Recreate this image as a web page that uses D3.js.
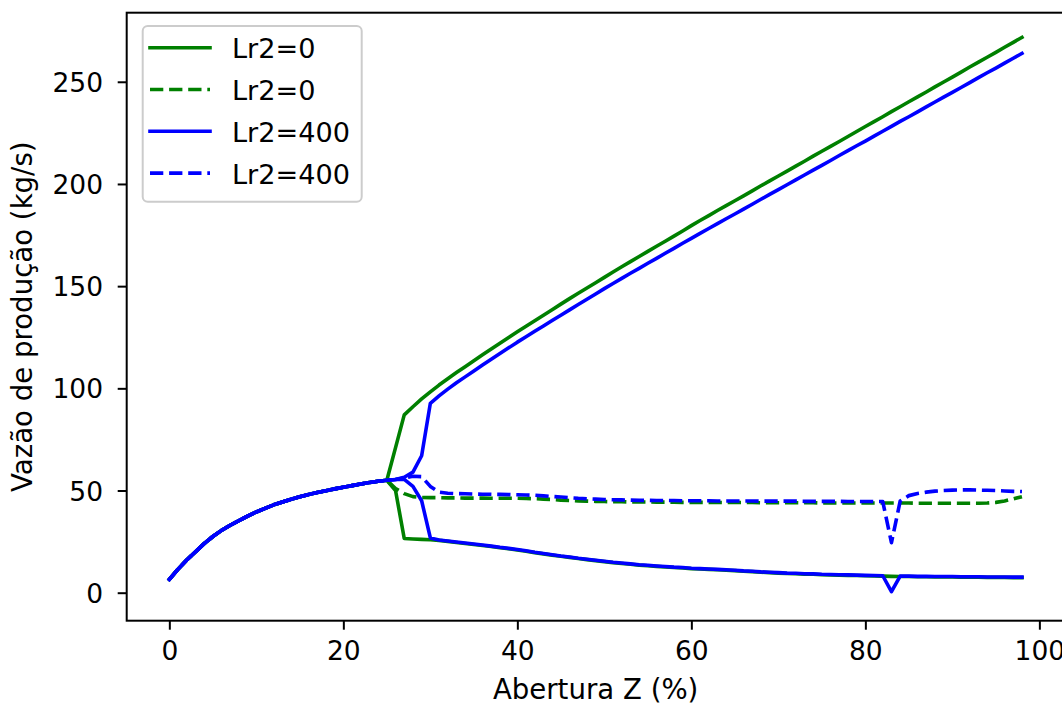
<!DOCTYPE html>
<html>
<head>
<meta charset="utf-8">
<script src="https://cdn.jsdelivr.net/npm/d3@7"></script>
<style>
  html, body { margin: 0; padding: 0; background: #fff; }
  svg { display: block; }
  text { font-family: "DejaVu Sans", sans-serif; fill: #000; }
</style>
</head>
<body>
<svg id="chart" width="1062" height="706"></svg>
<script>
// Abertura Z (%) — one sample per percent
const abertura = [
  0, 1, 2, 3, 4, 5, 6, 7, 8, 9, 10, 11, 12, 13, 14, 15, 16, 17, 18, 19,
  20, 21, 22, 23, 24, 25, 26, 27, 28, 29, 30, 31, 32, 33, 34, 35, 36, 37, 38, 39,
  40, 41, 42, 43, 44, 45, 46, 47, 48, 49, 50, 51, 52, 53, 54, 55, 56, 57, 58, 59,
  60, 61, 62, 63, 64, 65, 66, 67, 68, 69, 70, 71, 72, 73, 74, 75, 76, 77, 78, 79,
  80, 81, 82, 83, 84, 85, 86, 87, 88, 89, 90, 91, 92, 93, 94, 95, 96, 97, 98
];

// Shared start-up flow (Z = 0 .. 25), identical for every case
const rampFlow = [
  6.5, 11.5, 16.0, 20.0, 24.0, 27.5, 30.5, 33.0, 35.3, 37.5,
  39.5, 41.3, 43.0, 44.4, 45.7, 46.9, 48.0, 49.0, 49.9, 50.8,
  51.6, 52.4, 53.2, 53.9, 54.5, 55.0
];

// Lr2 = 0 branches, Z = 26 .. 98
const lr0UpperTail = [
  71, 87, 91, 94.8, 98.3, 101.6, 104.7, 107.7, 110.6, 113.5,
  116.4, 119.3, 122.1, 124.9, 127.7, 130.4, 133.1, 135.8, 138.5, 141.2,
  143.9, 146.5, 149.1, 151.7, 154.3, 156.9, 159.5, 162.0, 164.5, 167.0,
  169.5, 172.0, 174.5, 177.0, 179.6, 182.1, 184.5, 187.0, 189.4, 191.8,
  194.2, 196.6, 199.1, 201.5, 203.9, 206.3, 208.7, 211.1, 213.6, 216.0,
  218.4, 220.8, 223.2, 225.7, 228.1, 230.5, 232.9, 235.4, 237.8, 240.2,
  242.6, 245.0, 247.5, 249.9, 252.3, 254.7, 257.2, 259.6, 262.0, 264.4,
  266.9, 269.3, 271.7
];
const lr0LowerTail = [
  50, 26.5, 26.3, 26.1, 25.9, 25.6, 25.1, 24.6, 24.1, 23.6,
  23.1, 22.6, 22.0, 21.5, 20.9, 20.3, 19.6, 19.0, 18.4, 17.8,
  17.3, 16.7, 16.2, 15.7, 15.2, 14.7, 14.3, 13.9, 13.5, 13.2,
  12.9, 12.6, 12.3, 12.1, 11.8, 11.6, 11.4, 11.2, 11.0, 10.8,
  10.5, 10.3, 10.0, 9.8, 9.6, 9.4, 9.3, 9.1, 9.0, 8.8,
  8.7, 8.6, 8.5, 8.4, 8.3, 8.2, 8.1, 8.0, 7.9, 7.9,
  7.8, 7.8, 7.7, 7.7, 7.7, 7.6, 7.6, 7.6, 7.5, 7.5,
  7.5, 7.4, 7.4
];
const lr0DashedTail = [
  51, 48.5, 47.0, 46.6, 46.5, 46.5, 46.4, 46.4, 46.3, 46.3,
  46.3, 46.2, 46.2, 46.2, 46.2, 46.1, 46.0, 45.8, 45.6, 45.3,
  45.1, 44.9, 44.8, 44.7, 44.6, 44.5, 44.5, 44.4, 44.4, 44.4,
  44.3, 44.3, 44.3, 44.2, 44.2, 44.2, 44.2, 44.1, 44.1, 44.1,
  44.1, 44.1, 44.0, 44.0, 44.0, 44.0, 44.0, 44.0, 44.0, 43.9,
  43.9, 43.9, 43.9, 43.9, 43.9, 43.9, 43.9, 43.9, 43.9, 43.9,
  43.8, 43.8, 43.8, 43.8, 43.8, 43.8, 43.8, 43.8, 43.9, 44.2,
  44.9, 45.9, 47.0
];

// Lr2 = 400 branches, Z = 26 .. 98
const lr400UpperTail = [
  55.4, 56.5, 59, 67, 92.7, 96.3, 99.6, 102.7, 105.6, 108.5,
  111.4, 114.2, 117.0, 119.8, 122.6, 125.2, 127.9, 130.5, 133.2, 135.8,
  138.4, 141.0, 143.6, 146.2, 148.8, 151.3, 153.8, 156.3, 158.7, 161.2,
  163.6, 166.1, 168.5, 171.0, 173.4, 175.8, 178.2, 180.6, 183.0, 185.3,
  187.7, 190.1, 192.5, 194.9, 197.2, 199.6, 202.0, 204.4, 206.8, 209.1,
  211.5, 213.9, 216.3, 218.7, 221.0, 223.4, 225.8, 228.2, 230.6, 232.9,
  235.3, 237.7, 240.1, 242.5, 244.8, 247.2, 249.6, 252.0, 254.4, 256.7,
  259.1, 261.5, 263.9
];
const lr400LowerTail = [
  55.4, 55.5, 52, 45, 26.8, 25.8, 25.3, 24.8, 24.3, 23.8,
  23.3, 22.8, 22.2, 21.7, 21.1, 20.5, 19.8, 19.2, 18.6, 18.0,
  17.5, 16.9, 16.4, 15.9, 15.4, 14.9, 14.5, 14.1, 13.7, 13.4,
  13.1, 12.8, 12.5, 12.3, 12.0, 11.8, 11.6, 11.4, 11.2, 11.0,
  10.7, 10.5, 10.2, 10.0, 9.8, 9.6, 9.5, 9.3, 9.2, 9.0,
  8.9, 8.8, 8.7, 8.6, 8.5, 8.4, 8.3, 0.5, 8.1, 8.1,
  8.0, 8.0, 7.9, 7.9, 7.9, 7.8, 7.8, 7.8, 7.7, 7.7,
  7.7, 7.6, 7.6
];
const lr400DashedTail = [
  55.4, 56.2, 57.0, 56.8, 52.0, 49.2, 48.7, 48.5, 48.4, 48.3,
  48.2, 48.2, 48.1, 48.0, 47.9, 47.8, 47.7, 47.4, 47.1, 46.8,
  46.5, 46.2, 46.0, 45.8, 45.6, 45.5, 45.4, 45.3, 45.2, 45.2,
  45.1, 45.1, 45.1, 45.0, 45.0, 45.0, 45.0, 44.9, 44.9, 44.9,
  44.9, 44.9, 44.8, 44.8, 44.8, 44.8, 44.8, 44.7, 44.7, 44.7,
  44.7, 44.7, 44.6, 44.6, 44.6, 44.6, 44.6, 24.5, 44.8, 47.5,
  48.5, 49.2, 49.7, 50.0, 50.2, 50.3, 50.3, 50.2, 50.1, 50.0,
  49.8, 49.6, 49.5
];

const xTicks = [0, 20, 40, 60, 80, 100];
const yTicks = [0, 50, 100, 150, 200, 250];
const seriesLabels = ["Lr2=0", "Lr2=0", "Lr2=400", "Lr2=400"];
const seriesColors = ["#008000", "#008000", "#0000ff", "#0000ff"];
const seriesDashed = [false, true, false, true];

// Full series: shared ramp followed by each branch
const series = [
  { color: seriesColors[0], dashed: false, values: rampFlow.concat(lr0UpperTail) },
  { color: seriesColors[0], dashed: false, values: rampFlow.concat(lr0LowerTail) },
  { color: seriesColors[1], dashed: true,  values: rampFlow.concat(lr0DashedTail) },
  { color: seriesColors[2], dashed: false, values: rampFlow.concat(lr400UpperTail) },
  { color: seriesColors[2], dashed: false, values: rampFlow.concat(lr400LowerTail) },
  { color: seriesColors[3], dashed: true,  values: rampFlow.concat(lr400DashedTail) }
];

const TICK_FONT = 26.5;
const LABEL_FONT = 27.6;
const LEGEND_FONT = 27.1;
const LW = 3.6;
const DASH = "13.3,5.8";

const svg = d3.select("#chart");
const axLeft = 126.7, axRight = 1064.6, axTop = 12.7, axBottom = 620.7;

const x = d3.scaleLinear().domain([-4.9, 102.9]).range([axLeft, axRight]);
const y = d3.scaleLinear().domain([-13.7, 283.8]).range([axBottom, axTop]);

// Curves
const line = d3.line()
  .x((d, i) => x(abertura[i]))
  .y(d => y(d));

const plot = svg.append("g");
series.forEach(s => {
  plot.append("path")
    .datum(s.values)
    .attr("d", line)
    .attr("fill", "none")
    .attr("stroke", s.color)
    .attr("stroke-width", LW)
    .attr("stroke-linejoin", "round")
    .attr("stroke-linecap", s.dashed ? "butt" : "square")
    .attr("stroke-dasharray", s.dashed ? DASH : null);
});

// Axes
const xAxis = svg.append("g")
  .attr("transform", `translate(0,${axBottom})`)
  .call(d3.axisBottom(x).tickValues(xTicks).tickSize(9).tickPadding(11.5).tickFormat(d3.format("d")));
const yAxis = svg.append("g")
  .attr("transform", `translate(${axLeft},0)`)
  .call(d3.axisLeft(y).tickValues(yTicks).tickSize(9).tickPadding(14.7).tickFormat(d3.format("d")));

[xAxis, yAxis].forEach(g => {
  g.select(".domain").remove();
  g.selectAll(".tick line").attr("stroke", "#000").attr("stroke-width", 2);
  g.selectAll(".tick text").attr("font-size", TICK_FONT).attr("font-family", "DejaVu Sans").attr("fill", "#000");
});
yAxis.selectAll(".tick text").attr("dy", "0.36em");

// Frame
svg.append("rect")
  .attr("x", axLeft).attr("y", axTop)
  .attr("width", axRight - axLeft).attr("height", axBottom - axTop)
  .attr("fill", "none").attr("stroke", "#000").attr("stroke-width", 2);

// Axis titles
svg.append("text")
  .attr("x", (axLeft + axRight) / 2).attr("y", 699)
  .attr("text-anchor", "middle").attr("font-size", LABEL_FONT)
  .text("Abertura Z (%)");
svg.append("text")
  .attr("transform", `translate(32,${(axTop + axBottom) / 2}) rotate(-90)`)
  .attr("text-anchor", "middle").attr("font-size", LABEL_FONT)
  .text("Vazão de produção (kg/s)");

// Legend
const legend = svg.append("g");
legend.append("rect")
  .attr("x", 142.7).attr("y", 26).attr("width", 219).attr("height", 175.7)
  .attr("rx", 5).attr("fill", "#fff").attr("fill-opacity", 0.8)
  .attr("stroke", "#cccccc").attr("stroke-width", 2);
seriesLabels.forEach((lab, i) => {
  const ry = 47.7 + i * 41.8;
  legend.append("line")
    .attr("x1", 150).attr("x2", 210).attr("y1", ry).attr("y2", ry)
    .attr("stroke", seriesColors[i]).attr("stroke-width", LW)
    .attr("stroke-linecap", seriesDashed[i] ? "butt" : "square")
    .attr("stroke-dasharray", seriesDashed[i] ? DASH : null);
  legend.append("text")
    .attr("x", 232).attr("y", ry + 10.5)
    .attr("font-size", LEGEND_FONT)
    .text(lab);
});
</script>
</body>
</html>
